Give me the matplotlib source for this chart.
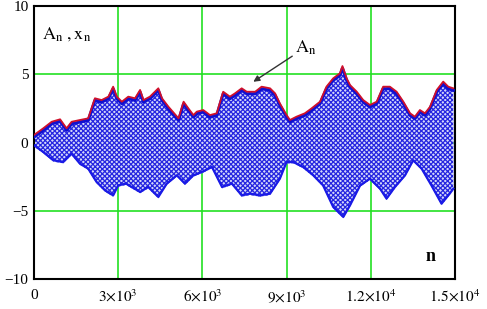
import numpy as np
import matplotlib
matplotlib.use("Agg")
import matplotlib.pyplot as plt

# upper envelope A_n
upper_n = [0, 330, 630, 930, 1160, 1340, 1640, 1930, 2170, 2410, 2650, 2820, 2950,
           3130, 3360, 3600, 3780, 3900, 4130, 4430, 4560, 4790, 5150, 5330, 5500,
           5680, 5800, 6030, 6270, 6510, 6740, 6980, 7160, 7400, 7580, 7880, 8110,
           8410, 8590, 8760, 9000, 9120, 9350, 9650, 9890, 10190, 10420, 10660,
           10900, 10990, 11140, 11260, 11500, 11730, 11970, 12210, 12440, 12680,
           12920, 13160, 13400, 13570, 13750, 13930, 14110, 14350, 14580, 14760,
           14940]
upper_v = [0.55, 1.04, 1.52, 1.70, 1.04, 1.52, 1.65, 1.77, 3.24, 3.11, 3.36, 4.09, 3.36,
           2.99, 3.36, 3.24, 3.85, 3.11, 3.36, 3.97, 3.24, 2.62, 1.77, 2.99, 2.50,
           2.01, 2.26, 2.38, 2.01, 2.14, 3.72, 3.36, 3.60, 3.97, 3.72, 3.72, 4.09,
           3.97, 3.60, 2.87, 2.01, 1.65, 1.89, 2.14, 2.50, 2.99, 4.09, 4.70,
           5.07, 5.60, 4.70, 4.21, 3.72, 3.11, 2.75, 2.99, 4.09, 4.09,
           3.72, 2.99, 2.14, 1.89, 2.38, 2.14, 2.62, 3.85, 4.46, 4.09,
           3.97]

# lower edge of x_n
lower_n = [0, 330, 690, 1040, 1340, 1640, 1930, 2230, 2530, 2820, 3000, 3280, 3780,
           4070, 4430, 4730, 5090, 5380, 5680, 5980, 6340, 6700, 7050, 7400, 7700,
           8050, 8410, 8760, 9000, 9240, 9590, 9950, 10300, 10660, 11020, 11260,
           11620, 11970, 12330, 12560, 12860, 13220, 13510, 13810, 14160, 14520,
           14810, 14940]
lower_v = [-0.30, -0.79, -1.40, -1.53, -0.92, -1.65, -2.01, -2.99, -3.60, -3.97, -3.24,
           -3.11, -3.72, -3.36, -4.09, -3.11, -2.50, -3.11, -2.50, -2.26, -1.89, -3.36,
           -3.11, -3.97, -3.85, -3.97, -3.85, -2.75, -1.53, -1.53, -1.89, -2.50, -3.24,
           -4.82, -5.55, -4.70, -3.24, -2.75, -3.48, -4.21, -3.36, -2.50, -1.40, -2.01,
           -3.24, -4.58, -3.85, -3.48]

xticks = [0, 3000, 6000, 9000, 12000, 15000]
xlabels = ["0", r"$3{\times}10^{3}$", r"$6{\times}10^{3}$", r"$9{\times}10^{3}$",
           r"$1.2{\times}10^{4}$", r"$1.5{\times}10^{4}$"]
yticks = [-10, -5, 0, 5, 10]
ylabels = ["\u221210", "\u22125", "0", "5", "10"]

plt.rcParams["font.family"] = ["Liberation Serif", "DejaVu Serif"]
plt.rcParams["mathtext.fontset"] = "stix"
plt.rcParams["hatch.linewidth"] = 0.9

fig = plt.figure(figsize=(4.87, 3.09), dpi=100)
ax = fig.add_axes([34 / 487, 1 - 279 / 309, 421 / 487, 273 / 309])

for x in xticks[1:-1]:
    ax.axvline(x, color="#22e022", lw=1.2, zorder=1)
for y in [-5, 0, 5]:
    ax.axhline(y, color="#22e022", lw=1.2, zorder=1)

un = np.array(upper_n)
uv = np.array(upper_v)
ln = np.array(lower_n)
lv = np.array(lower_v)

# x_n cloud: hatched polygon between the edges
ax.fill(np.r_[un, ln[::-1]], np.r_[uv, lv[::-1]], facecolor="#d4d8fa",
        edgecolor="#2626e0", hatch="xxxxxxx", linewidth=0, zorder=2)
ax.plot(un, uv - 0.15, color="#1010d0", lw=2.2, zorder=3)
ax.plot(ln, lv + 0.1, color="#1a1ae6", lw=1.6, zorder=3)
# A_n
ax.plot(un, uv, color="#d0102a", lw=1.3, zorder=4)

ax.set_xlim(0, 15000)
ax.set_ylim(-10, 10)
ax.set_xticks(xticks)
ax.set_xticklabels(xlabels)
ax.set_yticks(yticks)
ax.set_yticklabels(ylabels)
ax.tick_params(length=0, labelsize=11, pad=4)
ax.tick_params(axis="x", pad=7)
for s in ax.spines.values():
    s.set_linewidth(1.5)
    s.set_color("black")

ax.text(300, 7.6, r"$\mathrm{A_n\ ,x_n}$", fontsize=13)
ax.text(13950, -8.7, "n", fontsize=13, fontweight="bold")
ax.annotate(r"$\mathrm{A_n}$", xy=(7814, 4.45), xytext=(9300, 6.3),
            fontsize=13, color="black",
            arrowprops=dict(arrowstyle="-|>", color="#333333", lw=1.0,
                            shrinkA=0, shrinkB=0, mutation_scale=9),
            ha="left", va="bottom")

fig.savefig("out.png", dpi=100)
